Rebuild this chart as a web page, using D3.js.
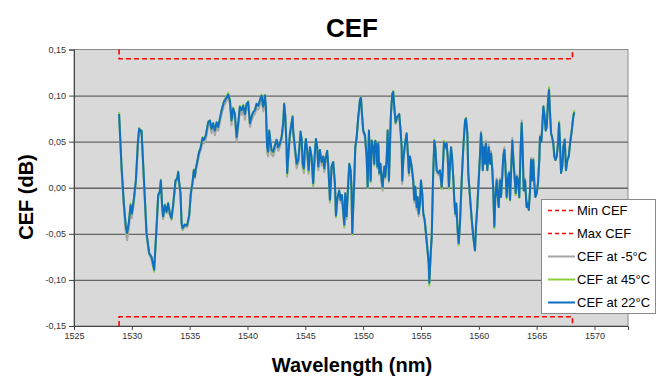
<!DOCTYPE html>
<html><head><meta charset="utf-8">
<script src="https://cdn.jsdelivr.net/npm/d3@7"></script>
<style>body{margin:0;background:#fff}svg{display:block;font-family:"Liberation Sans",Arial,sans-serif}</style>
</head><body><svg id="c" width="662" height="376"></svg>
<script>
const wavelengths=[
1528.90,1529.11,1529.31,1529.48,1529.59,1529.74,1529.89,1530.00,1530.17,1530.35,
1530.52,1530.63,1530.75,1530.84,1530.98,1531.12,1531.27,1531.50,1531.70,1531.79,
1531.93,1532.14,1532.28,1532.42,1532.51,1532.62,1532.71,1532.85,1533.00,1533.14,
1533.29,1533.43,1533.57,1533.78,1533.92,1534.01,1534.09,1534.21,1534.30,1534.39,
1534.58,1534.78,1534.96,1535.10,1535.25,1535.36,1535.45,1535.54,1535.65,1535.82,
1535.94,1536.12,1536.23,1536.40,1536.60,1536.75,1536.89,1537.03,1537.18,1537.33,
1537.47,1537.61,1537.76,1537.96,1538.19,1538.33,1538.48,1538.62,1538.76,1538.91,
1539.06,1539.20,1539.34,1539.49,1539.63,1539.78,1539.92,1540.06,1540.21,1540.35,
1540.49,1540.64,1540.79,1540.93,1541.07,1541.22,1541.36,1541.51,1541.59,1541.70,
1541.79,1541.88,1542.00,1542.08,1542.22,1542.37,1542.52,1542.66,1542.80,1542.95,
1543.09,1543.17,1543.26,1543.38,1543.43,1543.52,1543.67,1543.81,1543.90,1543.95,
1544.10,1544.25,1544.39,1544.47,1544.59,1544.68,1544.77,1544.88,1544.97,1545.05,
1545.16,1545.29,1545.40,1545.54,1545.68,1545.83,1545.92,1546.03,1546.12,1546.26,
1546.41,1546.55,1546.64,1546.78,1546.89,1546.98,1547.13,1547.27,1547.41,1547.56,
1547.65,1547.76,1547.93,1548.05,1548.17,1548.28,1548.37,1548.45,1548.57,1548.71,
1548.80,1548.92,1549.00,1549.06,1549.23,1549.32,1549.44,1549.58,1549.72,1549.81,
1549.90,1550.01,1550.16,1550.30,1550.39,1550.50,1550.59,1550.65,1550.74,1550.87,
1550.96,1551.05,1551.17,1551.22,1551.31,1551.39,1551.51,1551.60,1551.69,1551.74,
1551.83,1551.91,1552.03,1552.12,1552.23,1552.32,1552.40,1552.52,1552.60,1552.69,
1552.81,1552.95,1553.12,1553.24,1553.33,1553.38,1553.47,1553.62,1553.76,1553.85,
1553.96,1554.05,1554.20,1554.33,1554.42,1554.51,1554.63,1554.71,1554.80,1554.91,
1555.00,1555.11,1555.20,1555.32,1555.43,1555.54,1555.67,1555.72,1555.84,1555.93,
1556.04,1556.15,1556.24,1556.36,1556.50,1556.64,1556.79,1556.88,1556.99,1557.10,
1557.22,1557.31,1557.42,1557.51,1557.60,1557.68,1557.79,1557.88,1557.97,1558.05,
1558.17,1558.26,1558.37,1558.52,1558.66,1558.81,1558.89,1559.01,1559.09,1559.24,
1559.39,1559.52,1559.67,1559.76,1559.87,1559.99,1560.10,1560.19,1560.28,1560.34,
1560.45,1560.54,1560.62,1560.74,1560.86,1560.97,1561.06,1561.17,1561.25,1561.34,
1561.43,1561.55,1561.64,1561.72,1561.83,1561.92,1562.01,1562.12,1562.21,1562.29,
1562.41,1562.50,1562.61,1562.70,1562.81,1562.90,1562.99,1563.11,1563.19,1563.28,
1563.39,1563.50,1563.62,1563.71,1563.80,1563.88,1564.00,1564.08,1564.14,1564.23,
1564.32,1564.43,1564.52,1564.60,1564.71,1564.80,1564.89,1565.01,1565.12,1565.23,
1565.29,1565.41,1565.49,1565.58,1565.67,1565.79,1565.87,1565.99,1566.07,1566.16,
1566.25,1566.33,1566.44,1566.53,1566.62,1566.74,1566.85,1566.94,1567.02,1567.11,
1567.22,1567.31,1567.43,1567.54,1567.66,1567.78,1567.89,1568.04,1568.17,1568.26];

const cef22=[
0.080,0.023,-0.017,-0.042,-0.049,-0.038,-0.019,-0.028,-0.013,0.008,
0.048,0.064,0.061,0.062,0.026,-0.010,-0.049,-0.071,-0.075,-0.080,
-0.089,-0.042,-0.008,-0.004,0.008,-0.020,-0.031,-0.019,-0.026,-0.017,
-0.028,-0.033,-0.019,0.008,0.010,0.017,0.006,-0.006,-0.038,-0.044,
-0.040,-0.041,-0.030,-0.006,0.006,0.019,0.012,0.021,0.028,0.039,
0.043,0.054,0.052,0.057,0.071,0.073,0.064,0.070,0.062,0.071,
0.066,0.075,0.084,0.093,0.098,0.101,0.095,0.073,0.086,0.080,
0.055,0.070,0.088,0.084,0.089,0.080,0.091,0.093,0.070,0.077,
0.082,0.084,0.091,0.089,0.095,0.100,0.088,0.100,0.088,0.044,
0.039,0.062,0.048,0.041,0.039,0.046,0.052,0.044,0.048,0.055,
0.071,0.091,0.080,0.044,0.016,0.034,0.059,0.070,0.077,0.062,
0.044,0.026,0.030,0.041,0.061,0.053,0.026,0.021,0.044,0.053,
0.041,0.019,0.044,0.034,0.005,0.039,0.053,0.044,0.023,0.041,
0.028,0.034,0.021,0.034,0.040,0.026,-0.013,0.023,0.028,0.005,
-0.030,-0.012,-0.003,-0.013,-0.008,-0.026,-0.040,-0.006,-0.031,0.005,
0.026,0.019,-0.003,-0.049,0.008,0.044,0.055,0.077,0.095,0.098,
0.080,0.062,0.057,0.034,0.001,0.062,0.026,0.008,0.051,0.044,
0.026,0.051,0.044,0.023,0.048,0.016,0.026,0.008,0.001,0.012,
0.023,0.012,0.030,0.062,0.008,0.048,0.080,0.102,0.104,0.088,
0.071,0.077,0.080,0.062,0.044,0.008,0.030,0.048,0.059,0.041,
0.016,0.034,0.023,0.008,-0.013,0.001,-0.021,-0.010,-0.028,-0.017,
0.008,-0.006,-0.028,-0.035,-0.049,-0.064,-0.082,-0.103,-0.071,-0.053,
0.008,0.051,0.044,0.019,0.016,0.019,0.001,0.019,0.049,0.044,
0.048,0.034,0.001,0.026,0.044,0.034,0.012,-0.013,-0.028,-0.017,
-0.046,-0.060,-0.039,0.008,0.044,0.073,0.075,0.059,0.016,-0.010,
-0.035,-0.053,-0.068,-0.042,-0.021,0.008,0.034,0.059,0.044,0.019,
0.044,0.026,0.048,0.019,0.044,0.026,0.037,0.019,-0.003,-0.042,
-0.010,0.008,-0.010,-0.021,0.008,-0.010,0.008,0.034,0.041,0.026,
-0.010,0.008,0.016,-0.013,0.023,0.051,0.030,0.008,-0.006,0.012,
0.008,-0.010,0.044,0.070,0.037,-0.003,0.008,-0.010,-0.021,-0.017,
-0.024,-0.003,0.030,0.008,0.030,0.005,-0.010,-0.006,0.005,0.030,
0.055,0.050,0.066,0.088,0.080,0.062,0.066,0.095,0.106,0.080,
0.059,0.055,0.048,0.034,0.030,0.034,0.048,0.070,0.048,0.016,
0.023,0.044,0.052,0.019,0.030,0.034,0.048,0.062,0.077,0.082];

const cefMinus5=[
0.077,0.019,-0.022,-0.049,-0.057,-0.045,-0.024,-0.033,-0.017,0.005,
0.045,0.062,0.059,0.060,0.024,-0.013,-0.052,-0.072,-0.078,-0.083,
-0.089,-0.044,-0.010,-0.006,0.006,-0.022,-0.034,-0.021,-0.028,-0.019,
-0.030,-0.035,-0.021,0.006,0.008,0.015,0.004,-0.008,-0.040,-0.046,
-0.042,-0.043,-0.032,-0.008,0.004,0.017,0.010,0.019,0.025,0.036,
0.040,0.050,0.048,0.053,0.067,0.069,0.059,0.066,0.057,0.067,
0.062,0.071,0.080,0.089,0.094,0.097,0.091,0.068,0.082,0.075,
0.050,0.066,0.084,0.079,0.085,0.074,0.087,0.089,0.066,0.073,
0.078,0.080,0.086,0.085,0.090,0.095,0.083,0.095,0.083,0.038,
0.034,0.057,0.043,0.036,0.034,0.041,0.048,0.040,0.044,0.051,
0.067,0.087,0.076,0.040,0.012,0.030,0.055,0.066,0.073,0.058,
0.040,0.021,0.026,0.037,0.057,0.049,0.022,0.016,0.040,0.049,
0.037,0.015,0.040,0.030,0.001,0.035,0.049,0.040,0.019,0.037,
0.024,0.030,0.017,0.030,0.036,0.022,-0.016,0.019,0.024,0.001,
-0.032,-0.015,-0.006,-0.016,-0.011,-0.029,-0.043,-0.009,-0.034,0.002,
0.023,0.016,-0.005,-0.050,0.007,0.042,0.053,0.075,0.093,0.096,
0.078,0.060,0.055,0.032,0.000,0.060,0.024,0.006,0.049,0.042,
0.024,0.049,0.042,0.021,0.046,0.014,0.024,0.005,-0.003,0.009,
0.021,0.010,0.028,0.060,0.006,0.046,0.078,0.100,0.102,0.086,
0.069,0.075,0.078,0.059,0.040,0.004,0.027,0.046,0.057,0.039,
0.013,0.032,0.021,0.006,-0.016,-0.001,-0.024,-0.012,-0.031,-0.019,
0.006,-0.008,-0.030,-0.037,-0.051,-0.066,-0.084,-0.103,-0.073,-0.055,
0.006,0.049,0.042,0.017,0.014,0.017,-0.001,0.017,0.047,0.042,
0.046,0.032,0.000,0.024,0.042,0.032,0.010,-0.015,-0.031,-0.020,
-0.049,-0.062,-0.041,0.006,0.042,0.071,0.073,0.057,0.014,-0.012,
-0.033,-0.050,-0.066,-0.040,-0.019,0.010,0.036,0.061,0.046,0.021,
0.047,0.029,0.051,0.022,0.047,0.029,0.040,0.022,0.000,-0.040,
-0.008,0.010,-0.008,-0.019,0.010,-0.008,0.010,0.036,0.044,0.029,
-0.008,0.010,0.018,-0.011,0.025,0.054,0.033,0.010,-0.004,0.014,
0.010,-0.008,0.046,0.073,0.040,0.000,0.010,-0.008,-0.019,-0.015,
-0.022,-0.001,0.032,0.010,0.032,0.007,-0.008,-0.004,0.007,0.032,
0.057,0.052,0.068,0.089,0.081,0.063,0.067,0.096,0.105,0.081,
0.060,0.056,0.049,0.035,0.031,0.035,0.049,0.070,0.049,0.017,
0.024,0.045,0.053,0.020,0.031,0.035,0.049,0.063,0.077,0.081];

const cef45=[
0.082,0.023,-0.017,-0.042,-0.050,-0.037,-0.017,-0.028,-0.013,0.008,
0.048,0.065,0.061,0.062,0.026,-0.010,-0.049,-0.071,-0.075,-0.080,
-0.091,-0.042,-0.008,-0.004,0.009,-0.020,-0.031,-0.018,-0.026,-0.016,
-0.028,-0.034,-0.019,0.008,0.010,0.018,0.006,-0.006,-0.038,-0.045,
-0.040,-0.041,-0.030,-0.006,0.006,0.020,0.012,0.021,0.028,0.040,
0.043,0.055,0.052,0.057,0.072,0.073,0.064,0.070,0.062,0.071,
0.066,0.075,0.084,0.094,0.099,0.103,0.095,0.073,0.087,0.080,
0.055,0.070,0.089,0.084,0.090,0.080,0.091,0.094,0.070,0.077,
0.082,0.084,0.091,0.089,0.095,0.101,0.088,0.101,0.088,0.044,
0.038,0.062,0.048,0.041,0.038,0.046,0.052,0.044,0.048,0.055,
0.071,0.092,0.080,0.044,0.014,0.034,0.059,0.070,0.078,0.062,
0.044,0.025,0.030,0.041,0.061,0.053,0.026,0.019,0.044,0.053,
0.041,0.017,0.044,0.034,0.003,0.039,0.053,0.044,0.022,0.041,
0.028,0.034,0.020,0.034,0.040,0.026,-0.015,0.023,0.028,0.005,
-0.032,-0.012,-0.003,-0.013,-0.008,-0.026,-0.042,-0.006,-0.031,0.005,
0.026,0.019,-0.003,-0.051,0.008,0.044,0.055,0.077,0.095,0.099,
0.080,0.062,0.057,0.034,0.000,0.062,0.026,0.006,0.052,0.044,
0.025,0.051,0.044,0.022,0.048,0.015,0.026,0.008,0.000,0.012,
0.023,0.011,0.030,0.063,0.007,0.048,0.080,0.102,0.105,0.088,
0.070,0.077,0.080,0.062,0.044,0.008,0.030,0.048,0.059,0.041,
0.015,0.034,0.023,0.008,-0.013,0.001,-0.021,-0.010,-0.028,-0.017,
0.008,-0.006,-0.028,-0.035,-0.050,-0.064,-0.082,-0.106,-0.071,-0.053,
0.008,0.052,0.044,0.019,0.016,0.019,-0.001,0.019,0.051,0.044,
0.048,0.034,-0.001,0.026,0.044,0.034,0.012,-0.013,-0.028,-0.017,
-0.046,-0.062,-0.039,0.008,0.044,0.073,0.076,0.059,0.016,-0.010,
-0.036,-0.054,-0.068,-0.042,-0.021,0.008,0.034,0.059,0.044,0.019,
0.044,0.026,0.048,0.019,0.044,0.026,0.037,0.019,-0.003,-0.044,
-0.010,0.008,-0.010,-0.021,0.008,-0.010,0.008,0.034,0.041,0.026,
-0.012,0.008,0.016,-0.014,0.023,0.051,0.030,0.008,-0.008,0.012,
0.008,-0.011,0.044,0.070,0.037,-0.003,0.008,-0.010,-0.021,-0.017,
-0.024,-0.003,0.030,0.008,0.030,0.005,-0.010,-0.006,0.005,0.030,
0.055,0.050,0.066,0.088,0.080,0.062,0.066,0.096,0.109,0.080,
0.059,0.055,0.048,0.034,0.030,0.034,0.048,0.072,0.048,0.016,
0.023,0.044,0.053,0.019,0.030,0.034,0.048,0.063,0.079,0.084];

const specWavelengths=[1528.9,1528.9,1568.1,1568.1];
const maxCEF=[0.15,0.14,0.14,0.15];
const minCEF=[-0.15,-0.14,-0.14,-0.15];

const xTicks=[1525,1530,1535,1540,1545,1550,1555,1560,1565,1570];
const xTickLabels=["1525","1530","1535","1540","1545","1550","1555","1560","1565","1570"];
const yTicks=[-0.15,-0.10,-0.05,0,0.05,0.10,0.15];
const yTickLabels=["-0,15","-0,10","-0,05","0,00","0,05","0,10","0,15"];
const legendLabels=["Min CEF","Max CEF","CEF at -5°C","CEF at 45°C","CEF at 22°C"];

const svg=d3.select("#c");
const L=74,R=628,T=49.5,B=326;
const x=d3.scaleLinear().domain([1525,1572.9]).range([L,R]);
const y=d3.scaleLinear().domain([-0.15,0.15]).range([B,T]);

svg.append("text").attr("x",352).attr("y",37).attr("text-anchor","middle")
  .attr("font-size",26).attr("font-weight","bold").attr("fill","#000").text("CEF");

svg.append("rect").attr("x",L).attr("y",T).attr("width",R-L).attr("height",B-T)
  .attr("fill","#d9d9d9").attr("stroke","#8a8a8a").attr("stroke-width",1);

// gridlines
const grid=svg.append("g").attr("transform",`translate(${L},0)`)
  .call(d3.axisLeft(y).tickValues(yTicks.filter(v=>Math.abs(v)<0.149)).tickSize(-(R-L)).tickFormat(""));
grid.select(".domain").remove();
grid.selectAll("line").attr("stroke","#666").attr("stroke-width",1.3);

// axes
const yAxis=svg.append("g").attr("transform",`translate(${L},0)`)
  .call(d3.axisLeft(y).tickValues(yTicks).tickSize(5).tickPadding(3).tickFormat((d,i)=>yTickLabels[i]));
yAxis.select(".domain").attr("stroke","#444");
yAxis.selectAll(".tick line").attr("stroke","#444");
yAxis.selectAll("text").attr("font-size",9).attr("fill","#333").attr("font-family","'Liberation Sans',Arial,sans-serif");

const xAxis=svg.append("g").attr("transform",`translate(0,${B})`)
  .call(d3.axisBottom(x).tickValues(xTicks).tickSize(4).tickPadding(3).tickFormat((d,i)=>xTickLabels[i]));
xAxis.select(".domain").attr("stroke","#444");
xAxis.selectAll(".tick line").attr("stroke","#444");
xAxis.selectAll("text").attr("font-size",9).attr("fill","#333").attr("font-family","'Liberation Sans',Arial,sans-serif");

const line=d3.line().x(d=>x(d[0])).y(d=>y(d[1]));
const colors={min:"#ff0000",max:"#ff0000",m5:"#a6a6a6",p45:"#8ccf3c",p22:"#0f6fc0"};

svg.append("path").datum(d3.zip(specWavelengths,minCEF)).attr("d",line)
  .attr("fill","none").attr("stroke",colors.min).attr("stroke-width",1.6).attr("stroke-dasharray","5,3");
svg.append("path").datum(d3.zip(specWavelengths,maxCEF)).attr("d",line)
  .attr("fill","none").attr("stroke",colors.max).attr("stroke-width",1.6).attr("stroke-dasharray","5,3");
svg.append("path").datum(d3.zip(wavelengths,cefMinus5)).attr("d",line)
  .attr("fill","none").attr("stroke",colors.m5).attr("stroke-width",2).attr("stroke-linejoin","round");
svg.append("path").datum(d3.zip(wavelengths,cef45)).attr("d",line)
  .attr("fill","none").attr("stroke",colors.p45).attr("stroke-width",2).attr("stroke-linejoin","round");
svg.append("path").datum(d3.zip(wavelengths,cef22)).attr("d",line)
  .attr("fill","none").attr("stroke",colors.p22).attr("stroke-width",2).attr("stroke-linejoin","round");

// axis titles
svg.append("text").attr("transform","translate(33,197) rotate(-90)").attr("text-anchor","middle")
  .attr("font-size",20).attr("font-weight","bold").text("CEF (dB)");
svg.append("text").attr("x",352).attr("y",372).attr("text-anchor","middle")
  .attr("font-size",20).attr("font-weight","bold").text("Wavelength (nm)");

// legend
const lg=svg.append("g");
lg.append("rect").attr("x",541.5).attr("y",199.5).attr("width",114).attr("height",114)
  .attr("fill","#fff").attr("stroke","#8a8a8a");
const legendColors=[colors.min,colors.max,colors.m5,colors.p45,colors.p22];
legendLabels.forEach((lab,i)=>{
  const yy=210.5+i*23;
  lg.append("line").attr("x1",548).attr("x2",575).attr("y1",yy).attr("y2",yy)
    .attr("stroke",legendColors[i]).attr("stroke-width",i<2?1.6:2)
    .attr("stroke-dasharray",i<2?"4,3":null);
  lg.append("text").attr("x",577).attr("y",yy+4.5).attr("font-size",13).attr("fill","#000").text(lab);
});
</script></body></html>
